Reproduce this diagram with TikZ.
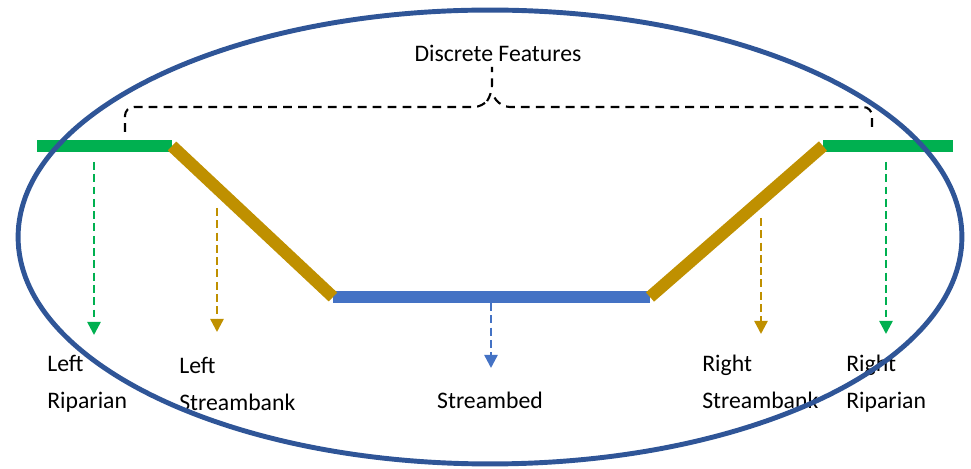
\documentclass[tikz,border=0pt]{standalone}
\usepackage{fontspec}
\setmainfont{Carlito}
\usetikzlibrary{arrows.meta}
\definecolor{ripgreen}{RGB}{0,176,80}
\definecolor{bankgold}{RGB}{191,144,0}
\definecolor{bedblue}{RGB}{68,114,196}
\definecolor{ringblue}{RGB}{47,85,151}

\begin{document}
\begin{tikzpicture}[x=0.02cm,y=-0.02cm,
  every node/.style={font=\fontsize{13.5}{21}\selectfont,inner sep=0pt},
  lbl/.style={align=left,anchor=north west},
  profile/.style={line width=7pt},
  pointer/.style={line width=1.4pt,dash pattern=on 4.5pt off 2.5pt,-{Triangle[width=7.5pt,length=7.5pt]}},
  bracket/.style={line width=1.2pt,dash pattern=on 5pt off 3.5pt,rounded corners=5pt}]

\useasboundingbox (0,0) rectangle (971,469);

% channel cross-section
\coordinate (lfar) at (37,146);
\coordinate (ltop) at (172,146);
\coordinate (lbed) at (333,297);
\coordinate (rbed) at (650,297);
\coordinate (rtop) at (823,146);
\coordinate (rfar) at (953,146);

\draw[profile,ripgreen] (lfar)--(ltop);
\draw[profile,ripgreen] (rtop)--(rfar);
\draw[profile,bedblue] (lbed)--(rbed);
\draw[profile,bankgold] (ltop)--(lbed);
\draw[profile,bankgold] (rbed)--(rtop);

% labels
\node[anchor=base] (disc) at (498,62) {Discrete Features};
\node[lbl] (lrip) at (47,355) {Left\\Riparian};
\node[lbl] (lbank) at (179,357) {Left\\Streambank};
\node[anchor=base] (bed) at (490,409) {Streambed};
\node[lbl] (rbank) at (702,355) {Right\\Streambank};
\node[lbl] (rrip) at (846,355) {Right\\Riparian};

% pointers
\coordinate (lripA) at (94,162);  \coordinate (lripB) at (94,335);
\coordinate (lbankA) at (217,208); \coordinate (lbankB) at (217,332);
\coordinate (bedA) at (491,303);  \coordinate (bedB) at (491,368);
\coordinate (rbankA) at (761,218); \coordinate (rbankB) at (761,334);
\coordinate (rripA) at (886,162); \coordinate (rripB) at (886,334);

\draw[pointer,ripgreen] (lripA)--(lripB);
\draw[pointer,bankgold] (lbankA)--(lbankB);
\draw[pointer,bedblue] (bedA)--(bedB);
\draw[pointer,bankgold] (rbankA)--(rbankB);
\draw[pointer,ripgreen] (rripA)--(rripB);

% discrete features brace
\coordinate (braceL) at (125,132);
\coordinate (braceR) at (872,127);
\coordinate (braceM) at (492,94);
\coordinate (braceTip) at (492,67);
\draw[bracket] (braceL) |- (483,107) -- (braceM) -- (braceTip);
\draw[bracket] (braceR) |- (501,107) -- (braceM);

% outline
\draw[ringblue,line width=2.8pt] (490,237) ellipse [x radius=9.44cm,y radius=4.54cm];
\end{tikzpicture}
\end{document}
